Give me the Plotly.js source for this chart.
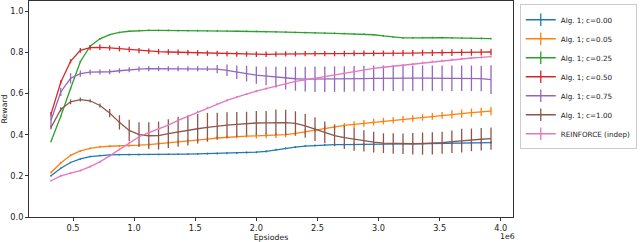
<!DOCTYPE html>
<html>
<head>
<meta charset="utf-8">
<script src="https://cdn.plot.ly/plotly-3.0.1.min.js"></script>
<style>html,body{margin:0;padding:0;background:#fff;}#chart{width:640px;height:242px;}</style>
</head>
<body>
<div id="chart"></div>
<script>
// Episodes in millions (axis multiplier 1e6)
const episodesM = [0.32,0.40,0.48,0.56,0.64,0.72,0.80,0.88,0.96,1.04,1.12,1.20,1.28,1.36,1.44,1.52,1.60,1.68,1.76,1.84,1.92,2.00,2.08,2.16,2.24,2.32,2.40,2.48,2.56,2.64,2.72,2.80,2.88,2.96,3.04,3.12,3.20,3.28,3.36,3.44,3.52,3.60,3.68,3.76,3.84,3.92];

const seriesNames = ["Alg. 1; c=0.00","Alg. 1; c=0.05","Alg. 1; c=0.25","Alg. 1; c=0.50","Alg. 1; c=0.75","Alg. 1; c=1.00","REINFORCE (indep)"];
const seriesColors = ["#1f77b4","#ff7f0e","#2ca02c","#d62728","#9467bd","#8c564b","#e377c2"];

const rewardC000 = [0.200,0.237,0.265,0.282,0.294,0.299,0.302,0.303,0.303,0.303,0.304,0.304,0.305,0.305,0.306,0.307,0.308,0.309,0.310,0.311,0.313,0.315,0.319,0.327,0.334,0.340,0.345,0.348,0.350,0.352,0.352,0.352,0.352,0.352,0.353,0.354,0.355,0.356,0.357,0.357,0.358,0.358,0.359,0.360,0.361,0.362];
const errC000 = [0.004,0.004,0.004,0.004,0.004,0.004,0.004,0.004,0.004,0.004,0.004,0.004,0.004,0.004,0.004,0.004,0.005,0.005,0.005,0.005,0.005,0.005,0.005,0.005,0.005,0.005,0.005,0.005,0.005,0.005,0.005,0.005,0.006,0.006,0.006,0.006,0.006,0.006,0.006,0.006,0.006,0.006,0.006,0.006,0.006,0.006];

const rewardC005 = [0.216,0.262,0.300,0.321,0.334,0.341,0.344,0.345,0.347,0.349,0.352,0.356,0.360,0.365,0.370,0.374,0.379,0.384,0.388,0.391,0.393,0.394,0.395,0.396,0.400,0.407,0.415,0.424,0.432,0.439,0.445,0.450,0.455,0.461,0.466,0.470,0.475,0.479,0.484,0.489,0.494,0.499,0.503,0.507,0.511,0.515];
const errC005 = [0.005,0.005,0.005,0.005,0.005,0.005,0.005,0.005,0.005,0.005,0.008,0.008,0.008,0.008,0.008,0.008,0.008,0.008,0.008,0.008,0.008,0.012,0.012,0.012,0.012,0.012,0.012,0.012,0.012,0.012,0.012,0.016,0.016,0.016,0.016,0.016,0.016,0.016,0.016,0.016,0.016,0.020,0.020,0.020,0.020,0.020];

const rewardC025 = [0.367,0.490,0.625,0.755,0.830,0.866,0.886,0.897,0.903,0.906,0.907,0.907,0.907,0.906,0.906,0.906,0.905,0.905,0.904,0.903,0.903,0.902,0.901,0.900,0.899,0.897,0.896,0.895,0.894,0.893,0.892,0.891,0.889,0.886,0.880,0.874,0.871,0.871,0.872,0.872,0.872,0.871,0.870,0.869,0.868,0.867];
const errC025 = [0.004,0.004,0.004,0.004,0.004,0.004,0.004,0.004,0.004,0.004,0.004,0.004,0.004,0.004,0.004,0.004,0.004,0.004,0.004,0.004,0.004,0.004,0.004,0.004,0.004,0.004,0.004,0.004,0.004,0.004,0.004,0.004,0.004,0.004,0.004,0.004,0.004,0.004,0.004,0.004,0.004,0.004,0.004,0.004,0.004,0.004];

const rewardC050 = [0.500,0.655,0.757,0.810,0.823,0.825,0.822,0.818,0.814,0.809,0.806,0.804,0.802,0.801,0.799,0.797,0.796,0.795,0.793,0.792,0.792,0.791,0.791,0.792,0.793,0.793,0.794,0.794,0.794,0.794,0.794,0.795,0.795,0.795,0.795,0.796,0.797,0.797,0.798,0.798,0.799,0.799,0.800,0.800,0.801,0.802];
const errC050 = [0.010,0.010,0.010,0.012,0.013,0.013,0.013,0.013,0.013,0.013,0.013,0.013,0.013,0.013,0.013,0.013,0.013,0.013,0.013,0.013,0.013,0.013,0.013,0.013,0.013,0.013,0.013,0.013,0.013,0.013,0.014,0.014,0.014,0.014,0.014,0.015,0.015,0.015,0.015,0.015,0.015,0.016,0.016,0.016,0.016,0.016];

const rewardC075 = [0.470,0.608,0.674,0.697,0.704,0.705,0.706,0.711,0.716,0.719,0.721,0.721,0.721,0.721,0.721,0.721,0.721,0.719,0.713,0.704,0.697,0.690,0.685,0.680,0.675,0.672,0.670,0.670,0.670,0.670,0.671,0.672,0.673,0.674,0.675,0.675,0.675,0.675,0.675,0.675,0.675,0.675,0.675,0.674,0.673,0.668];
const errC075 = [0.030,0.020,0.025,0.015,0.012,0.012,0.012,0.012,0.012,0.012,0.012,0.012,0.012,0.012,0.012,0.012,0.012,0.020,0.028,0.033,0.038,0.042,0.045,0.050,0.055,0.058,0.060,0.062,0.062,0.062,0.062,0.062,0.062,0.062,0.062,0.062,0.062,0.062,0.062,0.062,0.062,0.062,0.062,0.062,0.062,0.070];

const rewardC100 = [0.435,0.523,0.560,0.571,0.565,0.542,0.505,0.460,0.421,0.400,0.395,0.396,0.405,0.414,0.421,0.429,0.436,0.442,0.447,0.450,0.454,0.457,0.458,0.460,0.459,0.455,0.443,0.427,0.411,0.396,0.386,0.378,0.370,0.364,0.359,0.357,0.356,0.356,0.357,0.358,0.361,0.366,0.371,0.375,0.378,0.381];
const errC100 = [0.008,0.010,0.012,0.010,0.008,0.010,0.020,0.035,0.052,0.060,0.065,0.068,0.070,0.073,0.073,0.072,0.070,0.065,0.062,0.060,0.058,0.058,0.057,0.062,0.062,0.059,0.058,0.058,0.053,0.052,0.056,0.056,0.052,0.050,0.048,0.050,0.050,0.052,0.054,0.054,0.054,0.055,0.058,0.055,0.055,0.054];

const rewardReinforce = [0.176,0.200,0.213,0.226,0.245,0.268,0.297,0.329,0.362,0.390,0.410,0.428,0.447,0.470,0.490,0.511,0.531,0.550,0.567,0.583,0.598,0.612,0.624,0.636,0.648,0.659,0.667,0.675,0.684,0.692,0.700,0.708,0.715,0.722,0.728,0.733,0.739,0.744,0.751,0.756,0.761,0.766,0.770,0.773,0.776,0.780];
const errReinforce = [0.005,0.005,0.005,0.005,0.005,0.005,0.005,0.005,0.005,0.005,0.005,0.005,0.005,0.005,0.005,0.005,0.005,0.005,0.005,0.005,0.005,0.005,0.005,0.005,0.005,0.005,0.005,0.005,0.005,0.005,0.005,0.005,0.005,0.005,0.005,0.005,0.005,0.005,0.005,0.005,0.005,0.005,0.005,0.005,0.005,0.005];

const xTickVals = [0.5,1.0,1.5,2.0,2.5,3.0,3.5,4.0];
const xTickText = ["0.5","1.0","1.5","2.0","2.5","3.0","3.5","4.0"];
const yTickVals = [0.0,0.2,0.4,0.6,0.8,1.0];
const yTickText = ["0.0","0.2","0.4","0.6","0.8","1.0"];

const allValues = [rewardC000,rewardC005,rewardC025,rewardC050,rewardC075,rewardC100,rewardReinforce];
const allErrors = [errC000,errC005,errC025,errC050,errC075,errC100,errReinforce];

const FONT = "DejaVu Sans, sans-serif";
const traces = [];
for (let i = 0; i < seriesNames.length; i++) {
  traces.push({
    type: "scatter", mode: "lines",
    x: episodesM, y: allValues[i],
    name: seriesNames[i], legendgroup: "g" + i, showlegend: false,
    line: {color: seriesColors[i], width: 1.3},
    error_y: {type: "data", array: allErrors[i], visible: true, width: 0, thickness: 1.3, color: seriesColors[i]},
    hoverinfo: "skip"
  });
}
// legend entries (line with vertical error tick, like matplotlib's errorbar legend)
for (let i = 0; i < seriesNames.length; i++) {
  traces.push({
    type: "scatter", mode: "lines+markers",
    x: [null], y: [null],
    name: seriesNames[i], legendgroup: "g" + i, showlegend: true,
    line: {color: seriesColors[i], width: 1.3},
    marker: {symbol: "line-ns-open", size: 9, color: seriesColors[i], line: {color: seriesColors[i], width: 1.3}}
  });
}

const layout = {
  width: 640, height: 242,
  margin: {l: 29, r: 127, t: 1, b: 25, pad: 0, autoexpand: false},
  paper_bgcolor: "#ffffff", plot_bgcolor: "#ffffff",
  font: {family: FONT, size: 8, color: "#222"},
  showlegend: true,
  legend: {
    x: 1.014, y: 0.985, xanchor: "left", yanchor: "top",
    bgcolor: "#ffffff", bordercolor: "#cccccc", borderwidth: 1,
    font: {family: FONT, size: 7.2, color: "#222"},
    itemwidth: 30, tracegroupgap: 0
  },
  xaxis: {
    range: [0.14, 4.10], tickvals: xTickVals, ticktext: xTickText,
    showgrid: false, zeroline: false, showline: true, mirror: true,
    linecolor: "#333", linewidth: 1, ticks: "outside", ticklen: 3, tickcolor: "#333",
    tickfont: {family: FONT, size: 8.2, color: "#222"},
    title: {text: "Epsiodes", font: {family: FONT, size: 7.8, color: "#222"}, standoff: 2},
    automargin: false
  },
  yaxis: {
    range: [0, 1.05], tickvals: yTickVals, ticktext: yTickText,
    showgrid: false, zeroline: false, showline: true, mirror: true,
    linecolor: "#333", linewidth: 1, ticks: "outside", ticklen: 3, tickcolor: "#333",
    tickfont: {family: FONT, size: 8.2, color: "#222"},
    title: {text: "Reward", font: {family: FONT, size: 7.8, color: "#222"}, standoff: 2},
    automargin: false
  },
  annotations: [{
    text: "1e6", xref: "paper", yref: "paper", x: 0.988, y: -0.088,
    xanchor: "center", yanchor: "middle", showarrow: false,
    font: {family: FONT, size: 7.8, color: "#222"}
  }]
};

Plotly.newPlot("chart", traces, layout, {displayModeBar: false, staticPlot: true});
</script>
</body>
</html>
